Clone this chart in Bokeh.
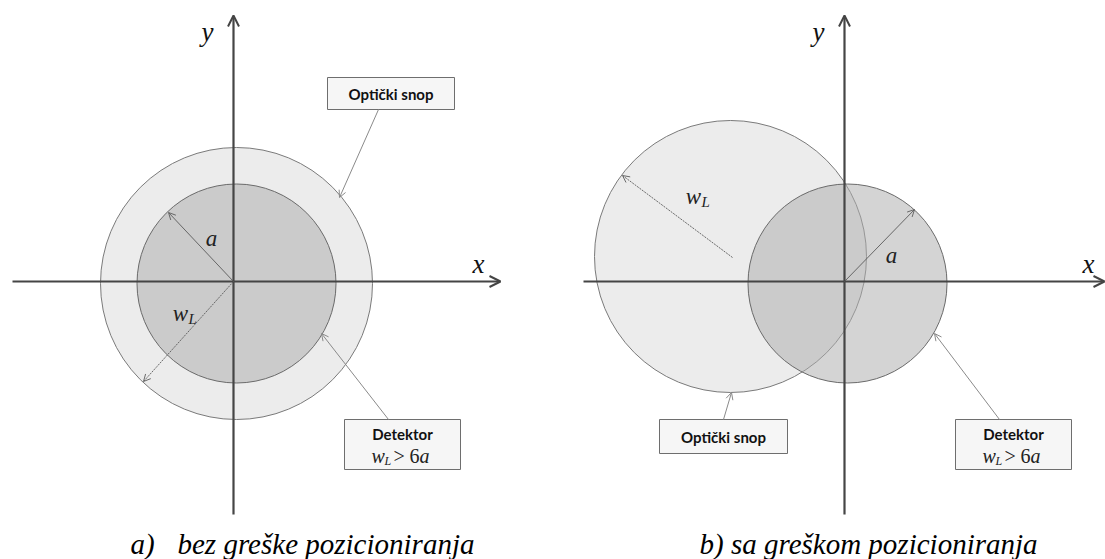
from bokeh.plotting import figure
from bokeh.models import Range1d, Arrow, OpenHead, ColumnDataSource
from bokeh.core.properties import value
from bokeh.embed import file_html
from bokeh.resources import INLINE

# ---------------- diagram data (diagram units) ----------------
panels = ["a", "b"]
origin_x = [233, 844]
origin_y = [281, 281]
y_axis_top = [15, 15]
y_axis_bottom = [514, 514]
x_axis_left = [12, 583]
x_axis_right = [500, 1104]

beam_x = [236, 730]
beam_y = [283, 256]
beam_r = [136, 136]

det_x = [236, 847]
det_y = [283, 283]
det_r = [99.5, 99.5]

# radius "a" line end points
a_end_x = [168, 914]
a_end_y = [212, 209]
a_label_x = [211, 891]
a_label_y = [238, 255]

# radius "wL" line (start, end with arrow)
wl_start_x = [233, 732]
wl_start_y = [281, 257]
wl_end_x = [143, 622]
wl_end_y = [381, 175]
wl_label_x = [180, 693]
wl_label_y = [313, 196]

# axis labels
xlab_x = [478, 1088]
xlab_y = [263, 263]
ylab_x = [207, 818]
ylab_y = [31, 31]

# label boxes
beam_box_left = [327, 659]
beam_box_right = [454, 787]
beam_box_top = [77, 419]
beam_box_bottom = [109, 453]
beam_ptr_x0 = [378, 723]
beam_ptr_y0 = [109, 419]
beam_ptr_x1 = [339, 731]
beam_ptr_y1 = [197, 392]

det_box_left = [344, 955]
det_box_right = [460, 1071]
det_box_top = [419, 419]
det_box_bottom = [469, 469]
det_ptr_x0 = [388, 999]
det_ptr_y0 = [419, 419]
det_ptr_x1 = [321, 934]
det_ptr_y1 = [333, 333]

beam_text = "Optički snop"
det_text = "Detektor"

captions_prefix = ["a)", ""]
captions = ["bez greške pozicioniranja", "b) sa greškom pozicioniranja"]
caption_prefix_x = [130, 0]
caption_x = [177, 699]
caption_y = [543, 543]

# ---------------- figure ----------------
W, H = 1105, 559
p = figure(width=W, height=H, x_range=Range1d(0, W), y_range=Range1d(H, 0),
           output_backend="svg", toolbar_location=None, x_axis_type=None, y_axis_type=None,
           min_border=0, outline_line_color=None, background_fill_color="white",
           border_fill_color="white")
p.grid.visible = False

SERIF = value("Liberation Serif")
SANS = value("Lato")

# circles
p.circle(x=beam_x, y=beam_y, radius=beam_r, fill_color="#ececec", line_color="#7a7a7a", line_width=1)
p.circle(x=det_x, y=det_y, radius=det_r, fill_color="#aeaeae", fill_alpha=0.53,
         line_color="#6a6a6a", line_width=1)

# coordinate axes
axcol = "#454545"
ax_src = ColumnDataSource(dict(
    x0=[origin_x[0], origin_x[1], x_axis_left[0], x_axis_left[1]],
    y0=[y_axis_bottom[0], y_axis_bottom[1], origin_y[0], origin_y[1]],
    x1=[origin_x[0], origin_x[1], x_axis_right[0], x_axis_right[1]],
    y1=[y_axis_top[0], y_axis_top[1], origin_y[0], origin_y[1]],
))
p.add_layout(Arrow(x_start="x0", y_start="y0", x_end="x1", y_end="y1", source=ax_src,
                   line_color=axcol, line_width=2.2,
                   end=OpenHead(size=11, line_color=axcol, line_width=2)))

# radius lines
a_src = ColumnDataSource(dict(x0=origin_x, y0=origin_y, x1=a_end_x, y1=a_end_y))
p.add_layout(Arrow(x_start="x0", y_start="y0", x_end="x1", y_end="y1", source=a_src,
                   line_color="#5a5a5a", line_width=0.9,
                   end=OpenHead(size=7, line_color="#5a5a5a", line_width=0.9)))
wl_src = ColumnDataSource(dict(x0=wl_start_x, y0=wl_start_y, x1=wl_end_x, y1=wl_end_y))
p.add_layout(Arrow(x_start="x0", y_start="y0", x_end="x1", y_end="y1", source=wl_src,
                   line_color="#5a5a5a", line_width=0.9, line_dash="2 1",
                   end=OpenHead(size=7, line_color="#5a5a5a", line_width=0.9)))

# pointer lines
ptr_src = ColumnDataSource(dict(x0=beam_ptr_x0 + det_ptr_x0, y0=beam_ptr_y0 + det_ptr_y0,
                                x1=beam_ptr_x1 + det_ptr_x1, y1=beam_ptr_y1 + det_ptr_y1))
p.add_layout(Arrow(x_start="x0", y_start="y0", x_end="x1", y_end="y1", source=ptr_src,
                   line_color="#8a8a8a", line_width=1,
                   end=OpenHead(size=7, line_color="#8a8a8a", line_width=1)))

# boxes
p.quad(left=beam_box_left + det_box_left, right=beam_box_right + det_box_right,
       top=beam_box_top + det_box_top, bottom=beam_box_bottom + det_box_bottom,
       fill_color="#f6f6f6", line_color="#6e6e6e", line_width=1)

# box texts
bcx = [(l + r) / 2 for l, r in zip(beam_box_left, beam_box_right)]
bcy = [(t + b) / 2 for t, b in zip(beam_box_top, beam_box_bottom)]
p.text(x=bcx, y=bcy, text=[beam_text] * 2, text_font=SANS, text_font_style="bold",
       text_font_size="15px", text_align="center", text_baseline="middle", text_color="#111111")
dcx = [(l + r) / 2 for l, r in zip(det_box_left, det_box_right)]
p.text(x=dcx, y=[t + 14 for t in det_box_top], text=[det_text] * 2, text_font=SANS,
       text_font_style="bold", text_font_size="15px", text_align="center",
       text_baseline="middle", text_color="#111111")

# condition "wL > 6a" inside detector boxes
cy = [t + 36 for t in det_box_top]
left = [c - 31 for c in dcx]
p.text(x=left, y=cy, text=["w"] * 2, text_font=SERIF, text_font_style="italic",
       text_font_size="20px", text_align="left", text_baseline="middle", text_color="#222222")
p.text(x=[l + 13 for l in left], y=[c + 5 for c in cy], text=["L"] * 2, text_font=SERIF,
       text_font_style="italic", text_font_size="12px", text_align="left",
       text_baseline="middle", text_color="#222222")
p.text(x=[l + 22 for l in left], y=cy, text=[">"] * 2, text_font=SERIF,
       text_font_size="20px", text_align="left", text_baseline="middle", text_color="#222222")
p.text(x=[l + 38 for l in left], y=cy, text=["6"] * 2, text_font=SERIF,
       text_font_size="20px", text_align="left", text_baseline="middle", text_color="#222222")
p.text(x=[l + 48 for l in left], y=cy, text=["a"] * 2, text_font=SERIF, text_font_style="italic",
       text_font_size="20px", text_align="left", text_baseline="middle", text_color="#222222")

# axis labels
p.text(x=xlab_x, y=xlab_y, text=["x"] * 2, text_font=SERIF, text_font_style="italic",
       text_font_size="27px", text_align="center", text_baseline="middle", text_color="#111111")
p.text(x=ylab_x, y=ylab_y, text=["y"] * 2, text_font=SERIF, text_font_style="italic",
       text_font_size="27px", text_align="center", text_baseline="middle", text_color="#111111")

# radius labels
p.text(x=a_label_x, y=a_label_y, text=["a"] * 2, text_font=SERIF, text_font_style="italic",
       text_font_size="23px", text_align="center", text_baseline="middle", text_color="#222222")
p.text(x=wl_label_x, y=wl_label_y, text=["w"] * 2, text_font=SERIF, text_font_style="italic",
       text_font_size="23px", text_align="center", text_baseline="middle", text_color="#222222")
p.text(x=[x + 8 for x in wl_label_x], y=[y + 5 for y in wl_label_y], text=["L"] * 2,
       text_font=SERIF, text_font_style="italic", text_font_size="15px", text_align="left",
       text_baseline="middle", text_color="#222222")

# captions
p.text(x=[caption_prefix_x[0]], y=[caption_y[0]], text=[captions_prefix[0]], text_font=SERIF,
       text_font_style="italic", text_font_size="29px", text_align="left",
       text_baseline="middle", text_color="#000000")
p.text(x=caption_x, y=caption_y, text=captions, text_font=SERIF, text_font_style="italic",
       text_font_size="29px", text_align="left", text_baseline="middle", text_color="#000000")

open("out.html", "w").write(file_html(p, INLINE))
